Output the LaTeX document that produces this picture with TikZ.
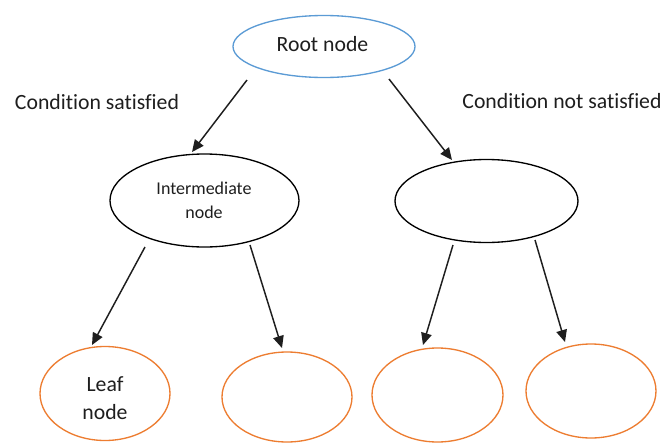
\documentclass[tikz,border=0pt]{standalone}
\usepackage{fontspec}
\setmainfont{Carlito}[Ligatures=NoCommon]
\usetikzlibrary{shapes.geometric,arrows.meta}
\definecolor{rootblue}{HTML}{5B9BD5}
\definecolor{leaforange}{HTML}{ED7D31}
\definecolor{ink}{HTML}{1E1E1E}
\tikzset{
  treenode/.style={ellipse, draw, line width=1pt, inner sep=0pt},
  rootnode/.style={treenode, draw=rootblue},
  midnode/.style={treenode, draw=black},
  leafnode/.style={treenode, draw=leaforange},
  label16/.style={text=ink, font=\fontsize{16.3}{20.5}\selectfont, align=center, inner sep=0pt},
  label13/.style={text=ink, font=\fontsize{13.5}{18}\selectfont, align=center, inner sep=0pt},
  branch/.style={draw=ink, line width=1.1pt,
    -{Triangle[length=9pt,width=8pt]}}
}
\begin{document}
\begin{tikzpicture}[x=0.75pt, y=-0.75pt]
  \useasboundingbox (0,0) rectangle (665,443);
  \fill[white] (0,0) rectangle (665,443);

  % tree nodes
  \node[rootnode, minimum width=182*0.75pt, minimum height=62*0.75pt] (root) at (324,46.5) {};
  \node[label16] (rootlabel) at (322.5,44) {Root node};

  \node[midnode, minimum width=189*0.75pt, minimum height=93*0.75pt] (midL) at (204.5,200.5) {};
  \node[label13] (midLlabel) at (204,200) {Intermediate\\node};

  \node[midnode, minimum width=183*0.75pt, minimum height=83*0.75pt] (midR) at (486.5,201) {};

  \node[leafnode, minimum width=130*0.75pt, minimum height=94*0.75pt] (leafA) at (105,393.5) {};
  \node[label16] (leafAlabel) at (105,398) {Leaf\\node};
  \node[leafnode, minimum width=130*0.75pt, minimum height=90*0.75pt] (leafB) at (287,397) {};
  \node[leafnode, minimum width=131*0.75pt, minimum height=94*0.75pt] (leafC) at (437.5,395) {};
  \node[leafnode, minimum width=130*0.75pt, minimum height=94*0.75pt] (leafD) at (591,391) {};

  % branch labels
  \node[label16] (yes) at (97,102) {Condition satisfied};
  \node[label16] (no) at (562,101) {Condition not satisfied};

  % branch end points
  \coordinate (rA) at (247,80);   \coordinate (mLt) at (192,152);
  \coordinate (rB) at (389,79);   \coordinate (mRt) at (452,160);
  \coordinate (lA) at (145,247);  \coordinate (aT) at (92,345);
  \coordinate (lB) at (250,245);  \coordinate (bT) at (282,348);
  \coordinate (rC) at (453,245);  \coordinate (cT) at (423,345);
  \coordinate (rD) at (535,240);  \coordinate (dT) at (565,342);

  \draw[branch] (rA) -- (mLt);
  \draw[branch] (rB) -- (mRt);
  \draw[branch] (lA) -- (aT);
  \draw[branch] (lB) -- (bT);
  \draw[branch] (rC) -- (cT);
  \draw[branch] (rD) -- (dT);
\end{tikzpicture}
\end{document}
